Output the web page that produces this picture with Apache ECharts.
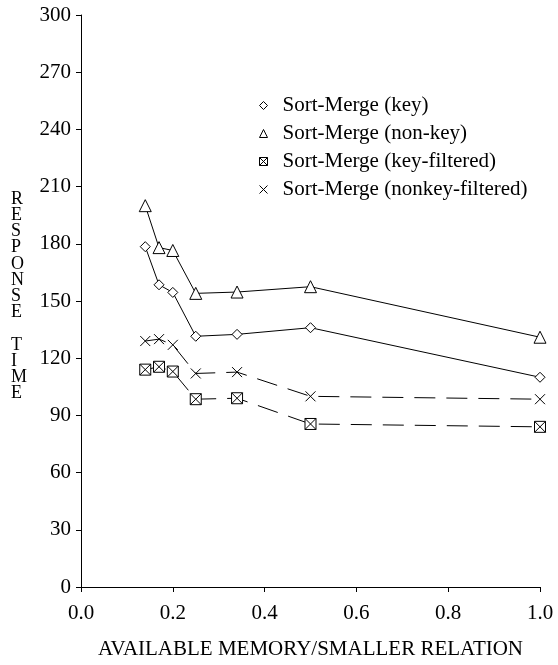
<!DOCTYPE html>
<html>
<head>
<meta charset="utf-8">
<script src="https://cdn.jsdelivr.net/npm/echarts@6/dist/echarts.min.js"></script>
<style>html,body{margin:0;padding:0;background:#fff;}#c{width:558px;height:665px;}</style>
</head>
<body>
<div id="c"></div>
<script>
const memRatio = [0.14, 0.17, 0.2, 0.25, 0.34, 0.5, 1.0];
const sortMergeKey = [178.5, 158.5, 154.5, 131.5, 132.5, 136, 110];
const sortMergeNonKey = [200, 178, 176.5, 154, 154.7, 157.5, 131];
const sortMergeKeyFiltered = [114, 115.5, 113, 98.5, 99, 85.5, 84];
const sortMergeNonkeyFiltered = [129, 130, 127, 112, 112.7, 100, 98.5];
const seriesNames = ['Sort-Merge (key)', 'Sort-Merge (non-key)', 'Sort-Merge (key-filtered)', 'Sort-Merge (nonkey-filtered)'];
const yTicks = [0, 30, 60, 90, 120, 150, 180, 210, 240, 270, 300];
const xTicks = [0.0, 0.2, 0.4, 0.6, 0.8, 1.0];
const yTitle = 'RESPONSE TIME';
const xTitle = 'AVAILABLE MEMORY/SMALLER RELATION';

const FONT = '"Liberation Serif", "Times New Roman", serif';
const boxX = 'path://M0,0L10,0L10,10L0,10Z M0,0L10,10 M10,0L0,10';
const crossX = 'path://M0,0L10,10 M10,0L0,10';
const toPairs = ys => memRatio.map((x, i) => [x, ys[i]]);

const symbols = ['diamond', 'triangle', boxX, crossX];
const sizes = [10, 12, 11, 10];
const dashed = [false, false, true, true];
const dataSets = [sortMergeKey, sortMergeNonKey, sortMergeKeyFiltered, sortMergeNonkeyFiltered];

const chart = echarts.init(document.getElementById('c'), null, {renderer: 'canvas'});
chart.setOption({
  animation: false,
  backgroundColor: '#fff',
  textStyle: {fontFamily: FONT, color: '#000'},
  grid: {left: 81, right: 18, top: 15, bottom: 78, containLabel: false},
  legend: {
    orient: 'vertical',
    left: 254,
    top: 90,
    itemGap: 7,
    itemWidth: 8,
    itemHeight: 8,
    textStyle: {fontFamily: FONT, fontSize: 21, color: '#000', padding: [0, 0, 0, 10]},
    data: seriesNames.map((n, i) => ({name: n, icon: symbols[i], itemStyle: {color: '#fff', borderColor: '#000', borderWidth: 1}}))
  },
  xAxis: {
    type: 'value', min: 0, max: 1, interval: 0.2,
    name: xTitle, nameLocation: 'middle', nameGap: 52,
    nameTextStyle: {fontFamily: FONT, fontSize: 21, color: '#000'},
    axisLine: {show: true, onZero: false, lineStyle: {color: '#000', width: 1}},
    axisTick: {show: true, inside: false, length: 5, lineStyle: {color: '#000'}},
    axisLabel: {fontFamily: FONT, fontSize: 21, color: '#000', margin: 16, formatter: v => v.toFixed(1)},
    splitLine: {show: false}
  },
  yAxis: {
    type: 'value', min: 0, max: 300, interval: 30,
    axisLine: {show: true, lineStyle: {color: '#000', width: 1}},
    axisTick: {show: true, inside: false, length: 5, lineStyle: {color: '#000'}},
    axisLabel: {fontFamily: FONT, fontSize: 21, color: '#000', margin: 10},
    splitLine: {show: false}
  },
  graphic: [{
    type: 'text', left: 11, top: 190,
    style: {text: yTitle.split('').join('\n'), font: '18px ' + FONT, fill: '#000', lineHeight: 16.2, align: 'center'}
  }],
  series: dataSets.map((d, i) => ({
    name: seriesNames[i],
    type: 'line',
    data: toPairs(d),
    symbol: symbols[i],
    symbolSize: sizes[i],
    showAllSymbol: true,
    itemStyle: {color: '#fff', borderColor: '#000', borderWidth: 1},
    lineStyle: {color: '#000', width: 1, type: dashed[i] ? [21, 11] : 'solid'},
    emphasis: {disabled: true}
  }))
});
</script>
</body>
</html>
